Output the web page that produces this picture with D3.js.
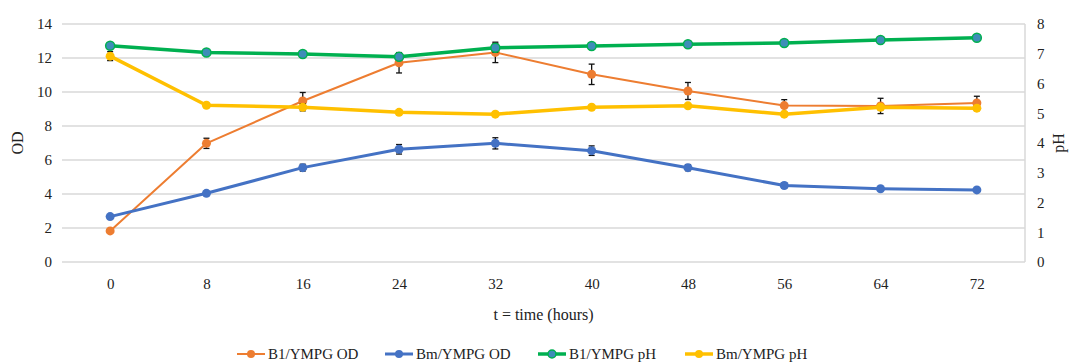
<!DOCTYPE html>
<html>
<head>
<meta charset="utf-8">
<script src="https://cdn.jsdelivr.net/npm/d3@7"></script>
<style>
  html, body { margin: 0; padding: 0; background: #fff; }
  svg { display: block; }
  svg text { font-family: "Liberation Serif", "Times New Roman", serif !important; }
</style>
</head>
<body>
<svg id="chart" width="1069" height="363"></svg>
<script>
// Sampling times (hours)
const times = [0, 8, 16, 24, 32, 40, 48, 56, 64, 72];

// Optical density (left axis)
const b1OD    = [1.83, 6.98, 9.47, 11.72, 12.33, 11.04, 10.06, 9.20, 9.18, 9.35];
const b1ODErr = [0.05, 0.30, 0.50, 0.60, 0.60, 0.60, 0.50, 0.35, 0.45, 0.40];
const bmOD    = [2.67, 4.04, 5.55, 6.63, 6.98, 6.55, 5.55, 4.50, 4.31, 4.24];
const bmODErr = [0.08, 0.12, 0.20, 0.28, 0.33, 0.28, 0.18, 0.15, 0.08, 0.08];

// pH (right axis)
const b1pH    = [7.27, 7.04, 6.99, 6.90, 7.20, 7.26, 7.32, 7.36, 7.46, 7.54];
const b1pHErr = [0.08, 0.07, 0.07, 0.07, 0.15, 0.07, 0.08, 0.07, 0.08, 0.08];
const bmpH    = [6.92, 5.27, 5.20, 5.03, 4.97, 5.20, 5.25, 4.97, 5.20, 5.17];
const bmpHErr = [0.15, 0.05, 0.12, 0.05, 0.05, 0.05, 0.05, 0.05, 0.08, 0.08];

const odTicks = [0, 2, 4, 6, 8, 10, 12, 14];
const phTicks = [0, 1, 2, 3, 4, 5, 6, 7, 8];

const seriesNames = ["B1/YMPG OD", "Bm/YMPG OD", "B1/YMPG pH", "Bm/YMPG pH"];

const FONT = "'Liberation Serif', 'Times New Roman', serif";
const svg = d3.select("#chart");
const plotLeft = 62, plotRight = 1025, plotTop = 24, plotBottom = 262;

const x = d3.scalePoint().domain(times).range([plotLeft, plotRight]).padding(0.5);
const yOD = d3.scaleLinear().domain([0, 14]).range([plotBottom, plotTop]);
const yPH = d3.scaleLinear().domain([0, 8]).range([plotBottom, plotTop]);

// Horizontal gridlines
svg.append("g")
  .selectAll("line").data(odTicks).join("line")
  .attr("x1", plotLeft).attr("x2", plotRight)
  .attr("y1", d => yOD(d)).attr("y2", d => yOD(d))
  .attr("stroke", "#d9d9d9").attr("stroke-width", 1.5);

// Secondary axis line
svg.append("line")
  .attr("x1", plotRight).attr("x2", plotRight).attr("y1", plotTop).attr("y2", plotBottom)
  .attr("stroke", "#d9d9d9").attr("stroke-width", 1.5);

function styleAxis(g) {
  g.attr("font-family", null);
  g.select(".domain").remove();
  g.selectAll("text").attr("font-size", 15).attr("fill", "#222")
    .style("font-family", FONT);
}

// Left axis
svg.append("g").attr("transform", `translate(${plotLeft},0)`)
  .call(d3.axisLeft(yOD).tickValues(odTicks).tickSize(0).tickPadding(10))
  .call(styleAxis);

// Right axis
svg.append("g").attr("transform", `translate(${plotRight},0)`)
  .call(d3.axisRight(yPH).tickValues(phTicks).tickSize(0).tickPadding(12))
  .call(styleAxis);

// Bottom axis
svg.append("g").attr("transform", `translate(0,${plotBottom})`)
  .call(d3.axisBottom(x).tickSize(0).tickPadding(16))
  .call(styleAxis);

// Axis titles
svg.append("text")
  .attr("transform", `translate(23,${(plotTop + plotBottom) / 2}) rotate(-90)`)
  .attr("text-anchor", "middle").attr("font-size", 16).attr("fill", "#222")
  .style("font-family", FONT).text("OD");
svg.append("text")
  .attr("transform", `translate(1064,${(plotTop + plotBottom) / 2}) rotate(-90)`)
  .attr("text-anchor", "middle").attr("font-size", 16).attr("fill", "#222")
  .style("font-family", FONT).text("pH");
svg.append("text")
  .attr("x", (plotLeft + plotRight) / 2).attr("y", 320)
  .attr("text-anchor", "middle").attr("font-size", 16).attr("fill", "#222")
  .style("font-family", FONT).text("t = time (hours)");

const series = [
  { name: seriesNames[0], vals: b1OD, err: b1ODErr, y: yOD, color: "#ED7D31", fill: "#ED7D31", width: 2 },
  { name: seriesNames[1], vals: bmOD, err: bmODErr, y: yOD, color: "#4472C4", fill: "#4472C4", width: 3 },
  { name: seriesNames[2], vals: b1pH, err: b1pHErr, y: yPH, color: "#00B050", fill: "#3E8DB8", width: 3.5 },
  { name: seriesNames[3], vals: bmpH, err: bmpHErr, y: yPH, color: "#FFC000", fill: "#FFC000", width: 3.5 }
];

series.forEach((s, i) => {
  const g = svg.append("g");
  const line = d3.line().x((d, j) => x(times[j])).y(d => s.y(d));
  g.append("path").datum(s.vals)
    .attr("fill", "none").attr("stroke", s.color)
    .attr("stroke-width", s.width).attr("stroke-linejoin", "round")
    .attr("d", line);
  // Error bars
  const eb = g.append("g");
  s.vals.forEach((v, j) => {
    const cx = x(times[j]);
    const y1 = s.y(v + s.err[j]), y2 = s.y(v - s.err[j]);
    eb.append("line").attr("x1", cx).attr("x2", cx).attr("y1", y1).attr("y2", y2)
      .attr("stroke", "#111").attr("stroke-width", 1.3);
    [y1, y2].forEach(yy => eb.append("line")
      .attr("x1", cx - 3).attr("x2", cx + 3).attr("y1", yy).attr("y2", yy)
      .attr("stroke", "#111").attr("stroke-width", 1.3));
  });
  g.append("g").selectAll("circle").data(s.vals).join("circle")
    .attr("cx", (d, j) => x(times[j])).attr("cy", d => s.y(d))
    .attr("r", 4.5).attr("fill", s.fill)
    .attr("stroke", s.color).attr("stroke-width", i === 2 ? 1.5 : 0);
});

// Legend
const legendX = [237, 385, 538, 685];
const legY = 354;
series.forEach((s, i) => {
  const g = svg.append("g").attr("transform", `translate(${legendX[i]},${legY})`);
  g.append("line").attr("x1", 0).attr("x2", 28).attr("y1", 0).attr("y2", 0)
    .attr("stroke", s.color).attr("stroke-width", s.width);
  g.append("circle").attr("cx", 14).attr("cy", 0).attr("r", 4)
    .attr("fill", s.fill).attr("stroke", s.color).attr("stroke-width", i === 2 ? 1.5 : 0);
  g.append("text").attr("x", 31).attr("y", 5)
    .attr("font-size", 15).attr("fill", "#222")
    .style("font-family", FONT).text(s.name);
});
</script>
</body>
</html>
